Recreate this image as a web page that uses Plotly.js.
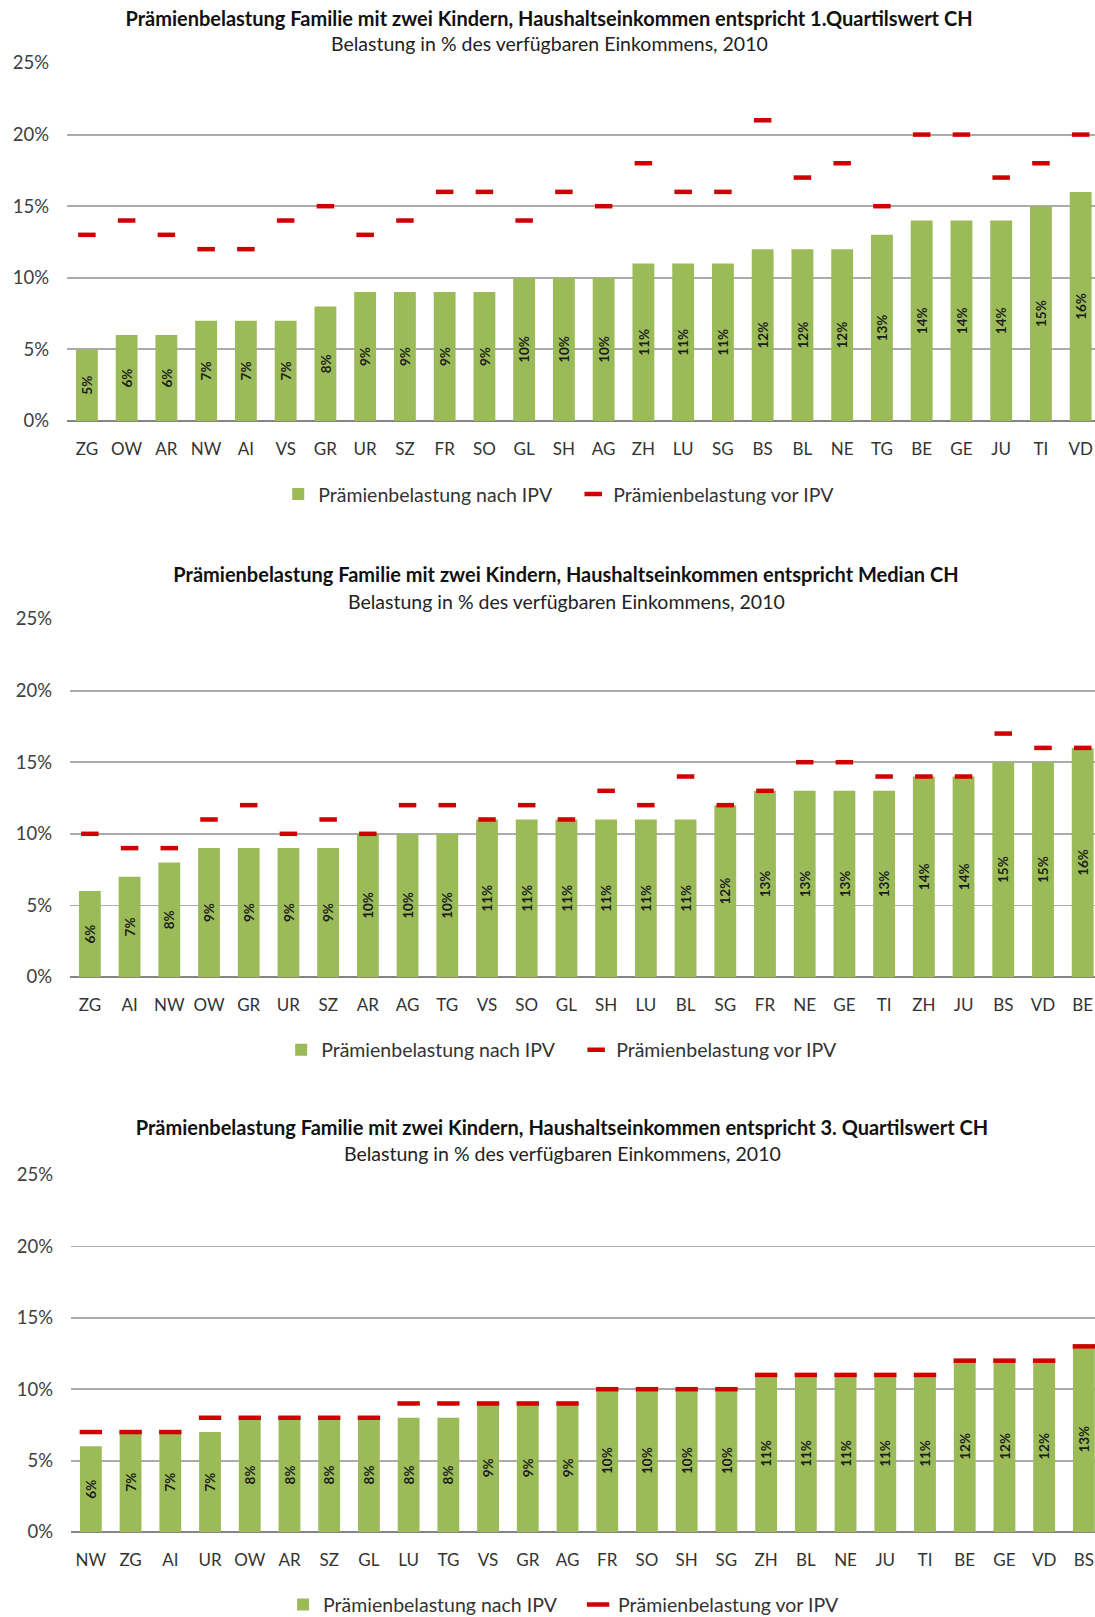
<!DOCTYPE html>
<html><head><meta charset="utf-8">
<script src="https://cdn.plot.ly/plotly-3.0.1.min.js"></script>
<style>body{margin:0;padding:0;background:#fff}#c1,#c2,#c3{width:1095px}</style>
</head><body>
<div id="c1"></div><div id="c2"></div><div id="c3"></div>
<script>
// ---- data ----
const cats1 = ["ZG","OW","AR","NW","AI","VS","GR","UR","SZ","FR","SO","GL","SH","AG","ZH","LU","SG","BS","BL","NE","TG","BE","GE","JU","TI","VD"];
const nach1 = [5,6,6,7,7,7,8,9,9,9,9,10,10,10,11,11,11,12,12,12,13,14,14,14,15,16];
const vor1  = [13,14,13,12,12,14,15,13,14,16,16,14,16,15,18,16,16,21,17,18,15,20,20,17,18,20];

const cats2 = ["ZG","AI","NW","OW","GR","UR","SZ","AR","AG","TG","VS","SO","GL","SH","LU","BL","SG","FR","NE","GE","TI","ZH","JU","BS","VD","BE"];
const nach2 = [6,7,8,9,9,9,9,10,10,10,11,11,11,11,11,11,12,13,13,13,13,14,14,15,15,16];
const vor2  = [10,9,9,11,12,10,11,10,12,12,11,12,11,13,12,14,12,13,15,15,14,14,14,17,16,16];

const cats3 = ["NW","ZG","AI","UR","OW","AR","SZ","GL","LU","TG","VS","GR","AG","FR","SO","SH","SG","ZH","BL","NE","JU","TI","BE","GE","VD","BS"];
const nach3 = [6,7,7,7,8,8,8,8,8,8,9,9,9,10,10,10,10,11,11,11,11,11,12,12,12,13];
const vor3  = [7,7,7,8,8,8,8,8,9,9,9,9,9,10,10,10,10,11,11,11,11,11,12,12,12,13];

const titles = [
  "Prämienbelastung Familie mit zwei Kindern, Haushaltseinkommen entspricht 1.Quartilswert CH",
  "Prämienbelastung Familie mit zwei Kindern, Haushaltseinkommen entspricht Median CH",
  "Prämienbelastung Familie mit zwei Kindern, Haushaltseinkommen entspricht 3. Quartilswert CH"
];
const subtitle = "Belastung in % des verfügbaren Einkommens, 2010";
const nameNach = "Prämienbelastung nach IPV";
const nameVor = "Prämienbelastung vor IPV";
const yTicks = [0,5,10,15,20,25];

// ---- drawing ----
const FONT = "Lato, 'Open Sans', sans-serif";
const GREEN = "#9bbb59", RED = "#d00000";

function draw(id, cats, nach, vor, title, g) {
  const W = 1095;
  const plotW = W - g.l;
  const plotH = g.bottom - g.top;
  const px = x => (x - g.l) / plotW;
  const py = y => (g.bottom - y) / plotH;
  const traces = [
    {type:"bar", x:cats, y:nach, name:nameNach,
     marker:{color:GREEN},
     text:nach.map(v => v + "%"), textposition:"inside", insidetextanchor:"middle",
     textangle:-90, textfont:{family:FONT, size:14.5, color:"#1c1c1c", weight:"bold"},
     hoverinfo:"skip"},
    {type:"scatter", mode:"markers", x:cats, y:vor, name:nameVor,
     marker:{symbol:"line-ew", size:g.dash, color:RED, line:{width:4.5, color:RED}},
     hoverinfo:"skip", cliponaxis:false}
  ];
  const layout = {
    width:W, height:g.H,
    margin:{l:g.l, r:0, t:g.top, b:g.H - g.bottom, pad:0, autoexpand:false},
    paper_bgcolor:"#fff", plot_bgcolor:"#fff",
    font:{family:FONT, color:"#404040"},
    bargap:0.45,
    showlegend:true,
    title:{text:"<b>" + title + "</b>", xref:"container", yref:"container",
           x:g.tx / W, xanchor:"center", y:1 - g.ty / g.H, yanchor:"middle",
           font:{family:FONT, size:20, color:"#111"}},
    annotations:[{text:subtitle, xref:"paper", yref:"paper",
                  x:px(g.tx), y:py(g.sy), xanchor:"center", yanchor:"middle",
                  showarrow:false, font:{family:FONT, size:19.5, color:"#222"}}],
    xaxis:{type:"category", range:[-0.5, g.xr], showgrid:false, showline:false,
           zeroline:false, ticks:"", ticklabelstandoff:16, automargin:false,
           tickfont:{family:FONT, size:17, color:"#333"}, fixedrange:true},
    yaxis:{range:[0,25], tickvals:yTicks, ticktext:yTicks.map(v => v + "%"),
           showgrid:true, gridcolor:"#ababab", gridwidth:1.8,
           zeroline:true, zerolinecolor:"#858585", zerolinewidth:2.2,
           showline:false, ticks:"", ticklabelstandoff:17, automargin:false,
           tickfont:{family:FONT, size:18.5, color:"#404040"}, fixedrange:true},
    legend:{orientation:"h", x:px(g.lx), xanchor:"left", y:py(g.ly), yanchor:"middle",
            font:{family:FONT, size:19.5, color:"#333"}, entrywidth:250, entrywidthmode:"pixels",
            bgcolor:"rgba(0,0,0,0)", traceorder:"normal", itemclick:false}
  };
  Plotly.newPlot(id, traces, layout, {staticPlot:true, displayModeBar:false});
}

draw("c1", cats1, nach1, vor1, titles[0],
     {H:540, l:66.7, top:62.9, bottom:420.7, xr:25.36, tx:549, ty:18.6, sy:43.3, lx:278, ly:494, dash:12.5});
draw("c2", cats2, nach2, vor2, titles[1],
     {H:545, l:69.8, top:78.6, bottom:437.4, xr:25.31, tx:566, ty:35, sy:61, lx:281, ly:510.6, dash:12.5});
draw("c3", cats3, nach3, vor3, titles[2],
     {H:532, l:70.9, top:90.3, bottom:447.1, xr:25.28, tx:562, ty:43, sy:69, lx:283, ly:520, dash:16});
</script>
</body></html>
